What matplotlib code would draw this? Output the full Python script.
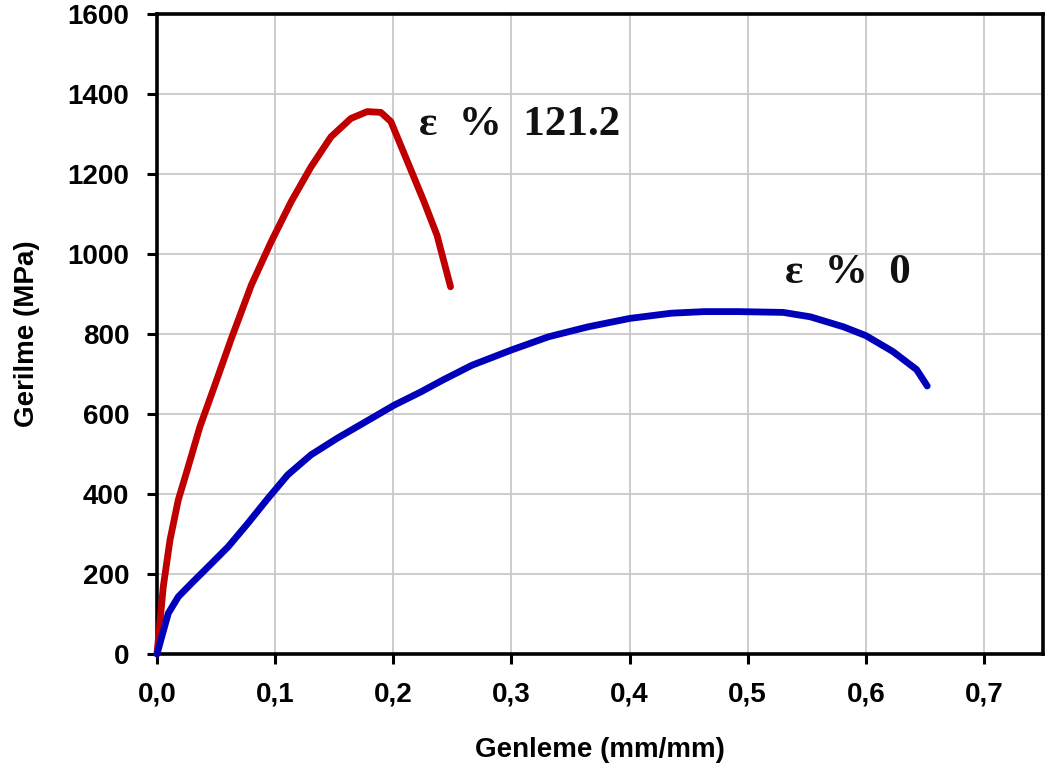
import matplotlib
matplotlib.use("Agg")
import matplotlib.pyplot as plt

# ---- data ----
red_x = [0.0, 0.0011, 0.0053, 0.011, 0.018, 0.0264, 0.0363, 0.0475, 0.063, 0.0798,
         0.0967, 0.1136, 0.1304, 0.1473, 0.1642, 0.178, 0.1895, 0.198, 0.212,
         0.226, 0.237, 0.2485]
red_y = [0, 35, 168, 285, 385, 468, 568, 660, 789, 922,
         1031, 1131, 1218, 1293, 1339, 1356, 1354, 1331, 1231,
         1131, 1047, 918]

blue_x = [0.0, 0.004, 0.0096, 0.018, 0.0293, 0.0433, 0.0602, 0.077, 0.0939, 0.1107,
          0.1304, 0.1529, 0.178, 0.2007, 0.2232, 0.2420, 0.2667, 0.3, 0.3314, 0.365,
          0.4003, 0.4353, 0.4635, 0.4916, 0.53, 0.553, 0.581, 0.6, 0.623, 0.643, 0.652]
blue_y = [0, 43, 102, 143, 177, 218, 268, 327, 389, 448,
          498, 540, 583, 622, 655, 685, 722, 760, 793, 818,
          839, 852, 856, 856, 854, 843, 818, 796, 756, 711, 670]

red_label = "ε  %  121.2"
blue_label = "ε  %  0"
red_label_pos = (0.2218, 1297)
blue_label_pos = (0.532, 927)

x_ticks = [0.0, 0.1, 0.2, 0.3, 0.4, 0.5, 0.6, 0.7]
x_tick_labels = ["0,0", "0,1", "0,2", "0,3", "0,4", "0,5", "0,6", "0,7"]
y_ticks = [0, 200, 400, 600, 800, 1000, 1200, 1400, 1600]
y_tick_labels = ["0", "200", "400", "600", "800", "1000", "1200", "1400", "1600"]

x_label = "Genleme (mm/mm)"
y_label = "Gerilme (MPa)"

# ---- figure ----
fig = plt.figure(figsize=(10.49, 7.80), dpi=100)
ax = fig.add_axes([157/1049, 126/780, 886/1049, 640/780])

ax.set_xlim(0, 0.75)
ax.set_ylim(0, 1600)
ax.set_xticks(x_ticks)
ax.set_xticklabels(x_tick_labels)
ax.set_yticks(y_ticks)
ax.set_yticklabels(y_tick_labels)

ax.grid(True, color="#c8c8c8", linewidth=1.3, zorder=0)
ax.set_axisbelow(True)

ax.plot(red_x, red_y, color="#C00000", linewidth=4.9, solid_capstyle="round",
        solid_joinstyle="round", clip_on=False, zorder=3)
ax.plot(blue_x, blue_y, color="#0000BB", linewidth=4.9, solid_capstyle="round",
        solid_joinstyle="round", clip_on=False, zorder=3)

for sp in ax.spines.values():
    sp.set_linewidth(2.6)
    sp.set_color("black")

ax.tick_params(axis="both", direction="out", length=7, width=2.2, pad=13,
               labelsize=20, colors="black")
for lab in ax.get_xticklabels() + ax.get_yticklabels():
    lab.set_fontfamily("Liberation Sans")
    lab.set_fontweight("bold")

ax.set_xlabel(x_label, fontsize=20, fontweight="bold", fontfamily="Liberation Sans")
ax.set_ylabel(y_label, fontsize=20, fontweight="bold", fontfamily="Liberation Sans")
ax.xaxis.set_label_coords(0.5, -0.13)
ax.yaxis.set_label_coords(-0.132, 0.5)

ax.text(red_label_pos[0], red_label_pos[1], red_label, fontsize=31,
        fontfamily="Liberation Serif", fontweight="bold", ha="left", va="baseline",
        color="#111111", zorder=4)
ax.text(blue_label_pos[0], blue_label_pos[1], blue_label, fontsize=31,
        fontfamily="Liberation Serif", fontweight="bold", ha="left", va="baseline",
        color="#111111", zorder=4)

fig.savefig("out.png", dpi=100, facecolor="white")
